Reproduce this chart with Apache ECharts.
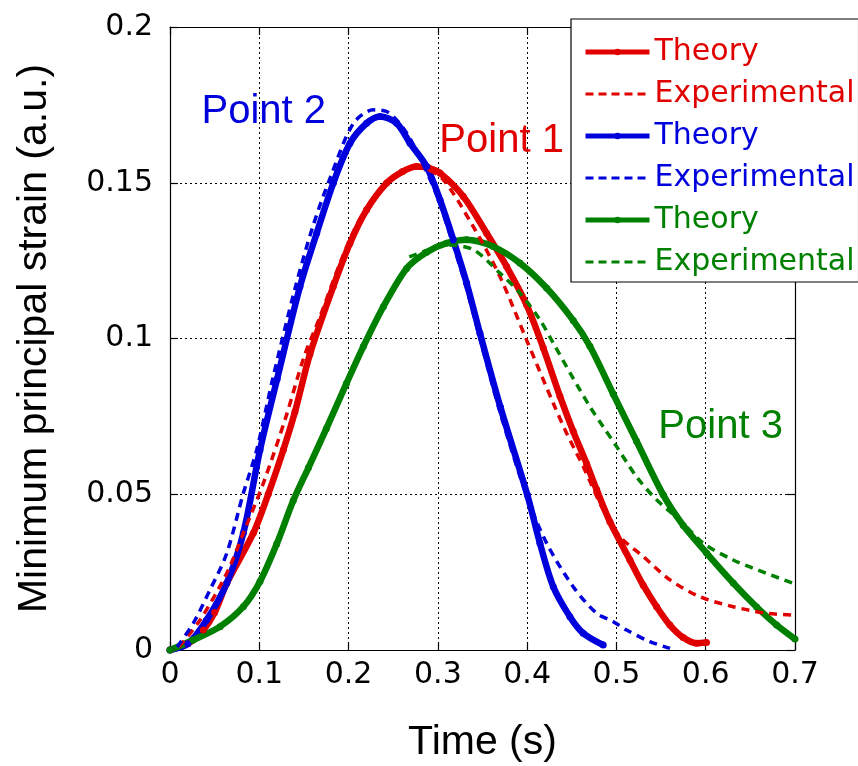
<!DOCTYPE html>
<html><head><meta charset="utf-8">
<script src="https://cdn.jsdelivr.net/npm/echarts@6/dist/echarts.min.js"></script>
<style>html,body{margin:0;padding:0;background:#fff}#c{width:858px;height:766px}</style>
</head><body><div id="c"></div>
<script>
// ---- data (time s, strain a.u.) ----
const xTickValues = [0, 0.1, 0.2, 0.3, 0.4, 0.5, 0.6, 0.7];
const yTickValues = [0, 0.05, 0.1, 0.15, 0.2];

const redTheory = [[0,0],[0.02,0.002],[0.0373,0.0064],[0.05,0.012],[0.0635,0.0214],[0.0933,0.0375],[0.11,0.05],[0.1269,0.0642],[0.14,0.0765],[0.1568,0.095],[0.1829,0.1167],[0.2016,0.1306],[0.2202,0.1413],[0.2427,0.1499],[0.26,0.1535],[0.2762,0.1552],[0.29,0.1547],[0.3024,0.1531],[0.3285,0.1456],[0.3546,0.1338],[0.377,0.1231],[0.3994,0.1108],[0.418,0.0970],[0.4367,0.0815],[0.4516,0.0702],[0.4666,0.0598],[0.4778,0.0515],[0.4927,0.0412],[0.5151,0.0289],[0.53,0.0208],[0.545,0.0139],[0.5599,0.0080],[0.5748,0.0040],[0.5897,0.0022],[0.6009,0.0024]];
const redExp = [[0.01,0.001],[0.0336,0.0096],[0.0635,0.0246],[0.0821,0.0375],[0.1045,0.0535],[0.13,0.075],[0.15,0.094],[0.168,0.107],[0.1904,0.1242],[0.21,0.137],[0.23,0.146],[0.25,0.152],[0.2688,0.1548],[0.285,0.1545],[0.306,0.151],[0.3397,0.1359],[0.3695,0.1199],[0.3994,0.0995],[0.4293,0.0792],[0.4442,0.0696],[0.4628,0.0589],[0.4852,0.045],[0.5039,0.0364],[0.53,0.03],[0.56,0.0225],[0.5935,0.0171],[0.6308,0.0139],[0.6681,0.0118],[0.7,0.0112]];
const blueTheory = [[0,0],[0.02,0.002],[0.041,0.0096],[0.0635,0.0214],[0.0821,0.0375],[0.1008,0.0642],[0.12,0.087],[0.1456,0.1167],[0.1643,0.1338],[0.1829,0.1499],[0.2016,0.1627],[0.2202,0.1691],[0.2352,0.1713],[0.2539,0.1691],[0.2688,0.1627],[0.2874,0.1552],[0.3024,0.1445],[0.3173,0.1317],[0.3322,0.1178],[0.3471,0.1017],[0.37,0.078],[0.4002,0.0498],[0.4143,0.0343],[0.4293,0.0203],[0.4479,0.0107],[0.4628,0.0054],[0.4852,0.0016]];
const blueExp = [[0.008,0.001],[0.0261,0.0086],[0.0448,0.0193],[0.0635,0.031],[0.0821,0.0503],[0.0971,0.0642],[0.115,0.087],[0.14,0.116],[0.16,0.136],[0.18,0.152],[0.2053,0.169],[0.2277,0.1734],[0.245,0.1725],[0.265,0.166],[0.285,0.155],[0.30,0.145],[0.3173,0.13],[0.3322,0.116],[0.3471,0.1],[0.37,0.076],[0.40,0.049],[0.4218,0.0343],[0.4516,0.0203],[0.4778,0.0118],[0.4965,0.0091],[0.5114,0.0064],[0.5375,0.0027],[0.56,0.0005]];
const greenTheory = [[0,0],[0.0261,0.0032],[0.056,0.0075],[0.0821,0.0139],[0.1008,0.022],[0.1195,0.034],[0.1381,0.048],[0.155,0.0585],[0.175,0.071],[0.1975,0.0855],[0.2165,0.0974],[0.2389,0.1102],[0.265,0.1225],[0.2874,0.1277],[0.3098,0.1306],[0.3322,0.1317],[0.362,0.1295],[0.3919,0.1242],[0.4218,0.1162],[0.4516,0.1058],[0.4703,0.0975],[0.4964,0.0822],[0.5226,0.067],[0.5524,0.0498],[0.5748,0.04],[0.601,0.0311],[0.6308,0.0215],[0.657,0.0138],[0.6794,0.008],[0.7,0.0035]];
const greenExp = [[0.268,0.1262],[0.29,0.1285],[0.31,0.13],[0.3397,0.1285],[0.3695,0.121],[0.3919,0.1146],[0.4143,0.106],[0.4293,0.0985],[0.45,0.088],[0.4703,0.0781],[0.4852,0.0717],[0.5002,0.0653],[0.5226,0.0556],[0.545,0.0482],[0.5711,0.0417],[0.5972,0.0343],[0.6308,0.0289],[0.6681,0.0246],[0.7,0.0212]];

const seriesNames = ['Theory#1','Experimental#1','Theory#2','Experimental#2','Theory#3','Experimental#3'];
const annotationText = ['Point 1','Point 2','Point 3'];

const RED = '#e00000', BLUE = '#0000dd', GREEN = '#008000';
const TICKFONT = 'DejaVu Sans';
const NAMEFONT = 'Liberation Sans, Arial, sans-serif';

function theory(name, data, color, label, coord) {
  return {
    name, type: 'line', data, color,
    smooth: 0.3,
    showSymbol: true, showAllSymbol: true, symbol: 'circle', symbolSize: 7,
    lineStyle: { width: 6.5, color },
    itemStyle: { color },
    emphasis: { disabled: true },
    z: 2,
    markPoint: {
      symbol: 'rect', symbolSize: 1, itemStyle: { color: 'rgba(0,0,0,0)' },
      label: { show: true, position: 'inside', formatter: label, color,
               fontSize: 40, fontFamily: NAMEFONT },
      data: [{ coord }]
    }
  };
}
function exper(name, data, color) {
  return {
    name, type: 'line', data, color,
    smooth: 0.3,
    showSymbol: false, symbol: 'none',
    lineStyle: { width: 3.5, color, type: [8, 6] },
    itemStyle: { color },
    emphasis: { disabled: true },
    z: 3
  };
}

const chart = echarts.init(document.getElementById('c'), null, { renderer: 'canvas' });
const axisCommon = {
  type: 'value',
  axisLine: { show: true, onZero: false, lineStyle: { color: '#000', width: 1.2 } },
  axisTick: { show: true, inside: true, length: 8, lineStyle: { color: '#000', width: 1.2 } },
};
chart.setOption({
  animation: false,
  backgroundColor: '#fff',
  grid: { left: 170, right: 63, top: 27, bottom: 116, outerBoundsMode: 'none', containLabel: false },
  legend: {
    orient: 'vertical', left: 571, top: 19,
    padding: [18, 4, 5, 12],
    backgroundColor: '#fff', borderColor: '#000', borderWidth: 1.2, borderRadius: 0,
    itemWidth: 64, itemHeight: 8, itemGap: 12,
    textStyle: { fontFamily: TICKFONT, fontSize: 30, lineHeight: 30 },
    formatter: n => n.split('#')[0],
    selectedMode: false,
    data: [
      { name: seriesNames[0], textStyle: { color: RED }, lineStyle: { width: 5 } },
      { name: seriesNames[1], textStyle: { color: RED }, lineStyle: { width: 3, type: [8, 5] }, itemStyle: { opacity: 0 } },
      { name: seriesNames[2], textStyle: { color: BLUE }, lineStyle: { width: 5 } },
      { name: seriesNames[3], textStyle: { color: BLUE }, lineStyle: { width: 3, type: [8, 5] }, itemStyle: { opacity: 0 } },
      { name: seriesNames[4], textStyle: { color: GREEN }, lineStyle: { width: 5 } },
      { name: seriesNames[5], textStyle: { color: GREEN }, lineStyle: { width: 3, type: [8, 5] }, itemStyle: { opacity: 0 } }
    ]
  },
  xAxis: [
    Object.assign({}, axisCommon, {
      position: 'bottom',
      min: xTickValues[0], max: xTickValues[xTickValues.length - 1],
      interval: xTickValues[1] - xTickValues[0],
      name: 'Time (s)', nameLocation: 'middle', nameGap: 72,
      nameTextStyle: { fontFamily: NAMEFONT, fontSize: 41, color: '#000' },
      axisLabel: { color: '#000', fontFamily: TICKFONT, fontSize: 30, margin: 10,
                   formatter: v => String(+v.toFixed(2)) },
      splitLine: { show: true, lineStyle: { color: '#000', type: [2, 3], width: 1 } }
    }),
    Object.assign({}, axisCommon, {
      position: 'top',
      min: xTickValues[0], max: xTickValues[xTickValues.length - 1],
      interval: xTickValues[1] - xTickValues[0],
      axisLabel: { show: false }, splitLine: { show: false }
    })
  ],
  yAxis: [
    Object.assign({}, axisCommon, {
      position: 'left',
      min: yTickValues[0], max: yTickValues[yTickValues.length - 1],
      interval: yTickValues[1] - yTickValues[0],
      name: 'Minimum principal strain (a.u.)', nameLocation: 'middle', nameGap: 115,
      nameTextStyle: { fontFamily: NAMEFONT, fontSize: 41, color: '#000' },
      axisLabel: { color: '#000', fontFamily: TICKFONT, fontSize: 30, margin: 17,
                   formatter: v => String(+v.toFixed(3)) },
      splitLine: { show: true, lineStyle: { color: '#000', type: [2, 3], width: 1 } }
    }),
    Object.assign({}, axisCommon, {
      position: 'right',
      min: yTickValues[0], max: yTickValues[yTickValues.length - 1],
      interval: yTickValues[1] - yTickValues[0],
      axisLabel: { show: false }, splitLine: { show: false }
    })
  ],
  series: [
    theory(seriesNames[0], redTheory, RED, annotationText[0], [0.3714, 0.1634]),
    exper(seriesNames[1], redExp, RED),
    theory(seriesNames[2], blueTheory, BLUE, annotationText[1], [0.105, 0.1728]),
    exper(seriesNames[3], blueExp, BLUE),
    theory(seriesNames[4], greenTheory, GREEN, annotationText[2], [0.6167, 0.0716]),
    exper(seriesNames[5], greenExp, GREEN)
  ]
});
</script></body></html>
